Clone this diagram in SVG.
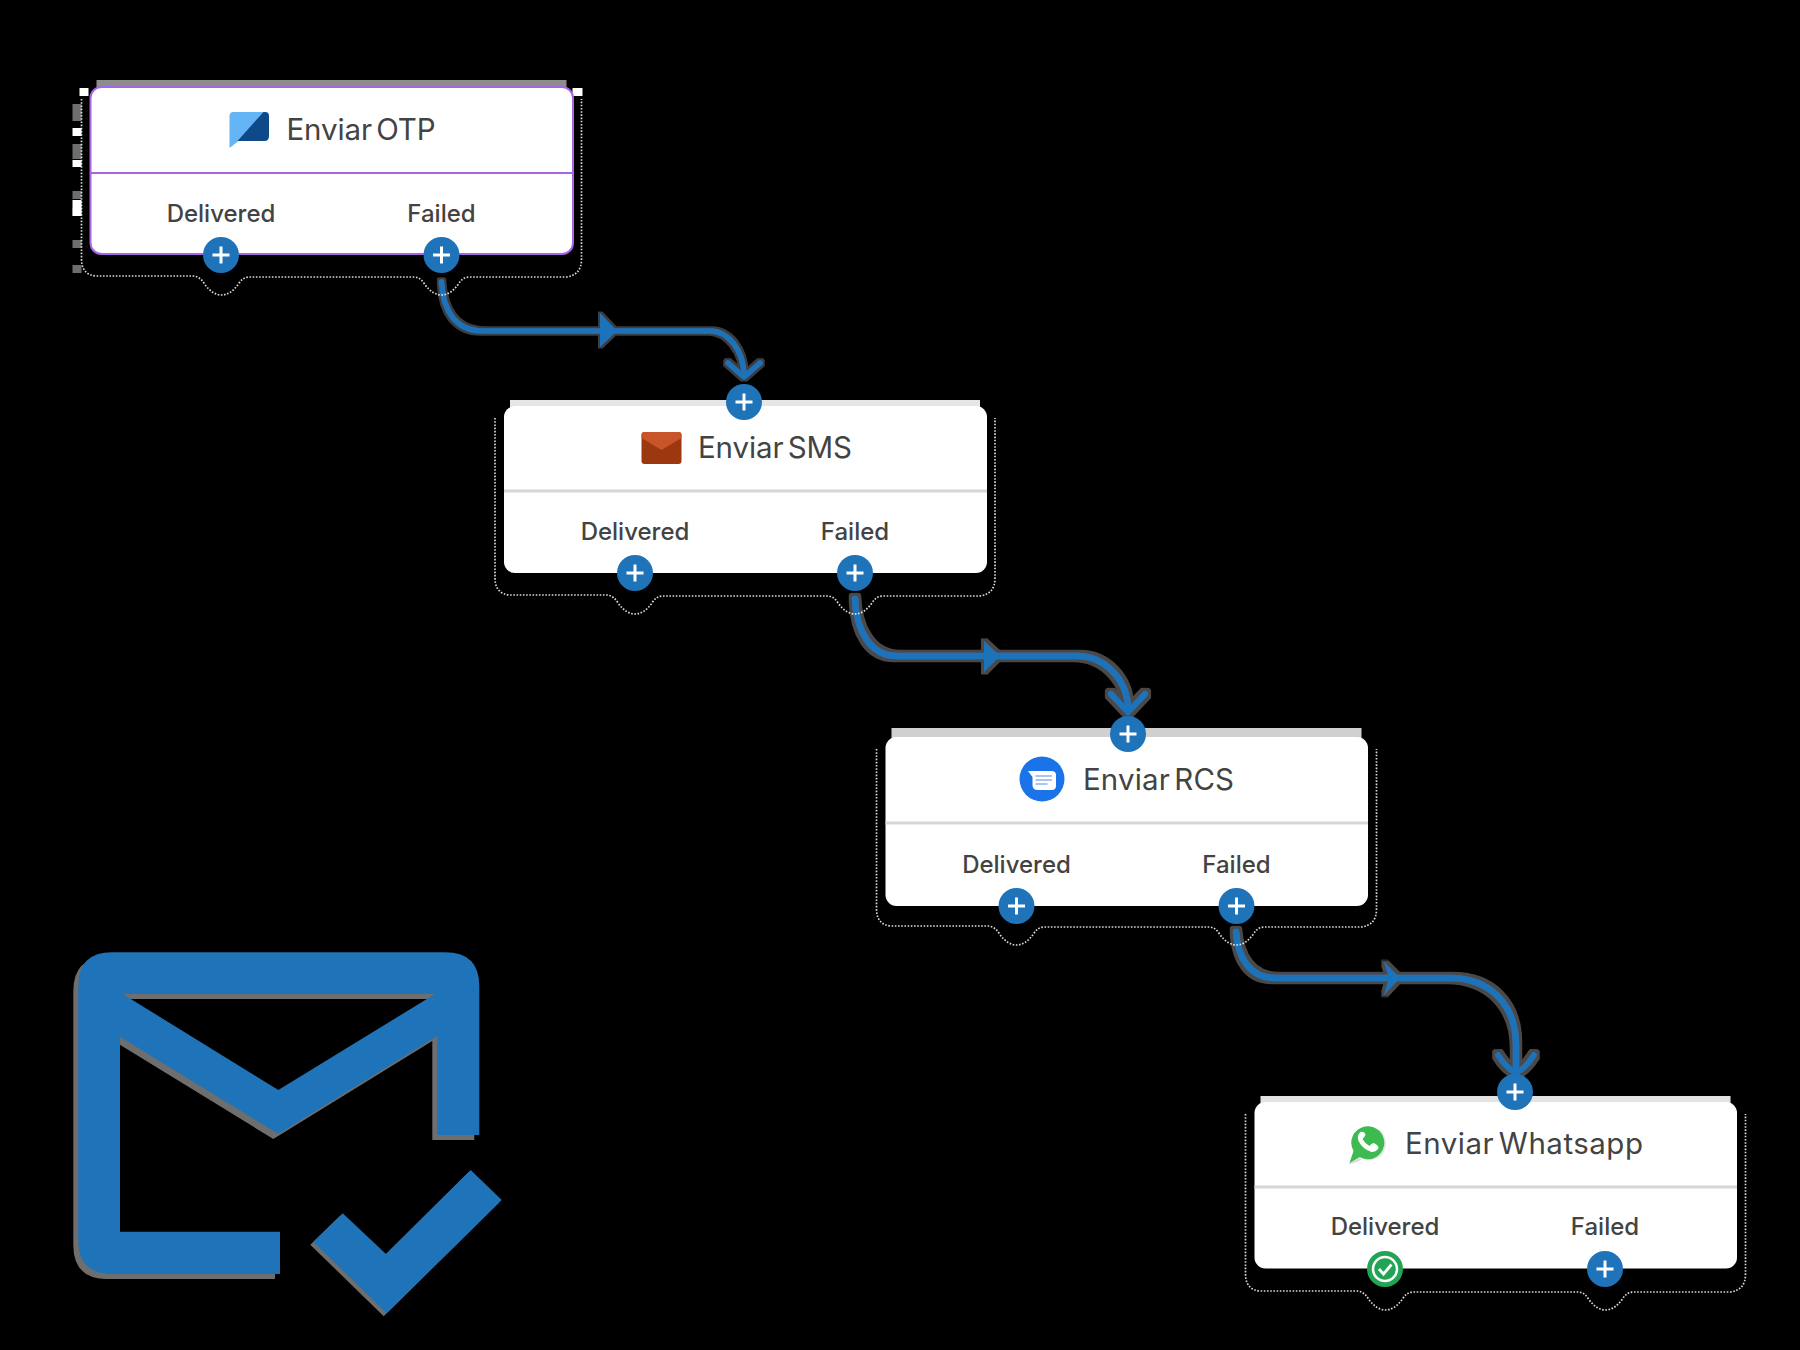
<svg xmlns="http://www.w3.org/2000/svg" width="1800" height="1350" viewBox="0 0 1800 1350">
<style>
text{font-family:"Inter","Noto Sans","Liberation Sans",sans-serif;fill:#434343}
.title{font-size:29.500px;word-spacing:-4px}
.lab{font-size:24px;text-anchor:middle;font-weight:500}
.halo{fill:none;stroke:#fff;stroke-width:1.7;stroke-dasharray:1.6 1.6;opacity:.85}
.card{fill:#fff}
.div{stroke:#d6d6d6;stroke-width:3}
.conn{fill:none;stroke:#1e73b9;stroke-linecap:round;stroke-linejoin:round}
.tri{fill:#1e73b9}
.btn{fill:#1e73b9}
.pl{stroke:#fff;stroke-width:3;fill:none}
.big{fill:#1e73b9;fill-rule:evenodd}
.bigs{fill:#6e6e6e;fill-rule:evenodd}
</style>
<defs>
<filter id="g2" x="-10%" y="-10%" width="120%" height="120%"><feMorphology in="SourceAlpha" operator="dilate" radius="2" result="m"/><feFlood flood-color="#3c3c3c"/><feComposite in2="m" operator="in" result="b"/><feMerge><feMergeNode in="b"/><feMergeNode in="SourceGraphic"/></feMerge></filter>
<filter id="g4" x="-10%" y="-10%" width="120%" height="120%"><feMorphology in="SourceAlpha" operator="dilate" radius="3" result="m"/><feFlood flood-color="#4a4a4a"/><feComposite in2="m" operator="in" result="b"/><feMerge><feMergeNode in="b"/><feMergeNode in="SourceGraphic"/></feMerge></filter>
<path id="halo" class="halo" d="M-9,12V172Q-9,188 6,189H103Q110,190 114,197Q122,208 131,208Q140,208 148,197Q152,190 159,190H323Q330,190 334,197Q342,208 351,208Q360,208 368,197Q372,190 379,190H476Q491,188 491,172V12"/>
<g id="plus"><circle class="btn" r="18"/><path class="pl" d="M-8.500,0H8.500M0,-8.500V8.500"/></g>
</defs>
<rect id="background" width="1800" height="1350" fill="#000"/>
<g id="connectors">
<g filter="url(#g2)">
<path class="conn" stroke-width="5.500" d="M441.500,282C443,310 455,331 483,331H710C728,331 744,350 744,376"/>
<polygon class="tri" points="600,313 617,331 600,347"/>
<path class="conn" stroke-width="5.500" d="M728,363L744,377L760,363"/>
</g>
<g filter="url(#g4)">
<path class="conn" stroke-width="6.500" d="M855,599C856,630 870,656 897,656H1077C1105,656 1128,680 1128,710"/>
<polygon class="tri" points="984,641 1000,656 984,672"/>
<path class="conn" stroke-width="6" d="M1111,694L1128,712L1145,694"/>
</g>
<g filter="url(#g4)">
<path class="conn" stroke-width="6.500" d="M1236,932C1238,958 1250,978 1275,978H1450C1490,978 1516,1005 1516,1045V1070"/>
<polygon class="tri" points="1384,962 1400,978 1384,995 1389,978"/>
<path class="conn" stroke-width="5.500" d="M1498,1055C1503,1063 1510,1070 1516,1073C1522,1070 1529,1063 1534,1055"/>
</g>
</g>
<g id="node-otp" transform="translate(90.500,87)">
<rect x="6" y="-7" width="470" height="12" fill="#8c8c8c"/>
<path fill="#6e6e6e" d="M-18,17h9v17h-9zM-18,57h9v15h-9zM-18,104h9v8h-9zM-18,121h9v8h-9zM-18,153h9v8h-9zM-18,178h9v8h-9z"/>
<path fill="#fff" d="M-18,41h9v8h-9zM-18,73h9v7h-9zM-18,113h9v16h-9zM-11,1h9v8h-9zM482,1h10v8h-10z"/>
<use href="#halo"/>
<rect class="card" width="482.500" height="167" rx="11" stroke="#a864e6" stroke-width="2"/>
<line x1="0" y1="86" x2="482.500" y2="86" stroke="#a864e6" stroke-width="2"/>
<g id="icon-otp">
<path fill="#64b5f6" d="M143,25H175Q178,25 178,28L148,54L139,61V29Q139,25 143,25Z"/>
<path fill="#0e4a8a" d="M173,25H174Q178.500,25 178.500,29V49Q178.500,54 174,54H147Z"/>
</g>
<text class="title" x="196" y="53" textLength="149">Enviar OTP</text>
<text class="lab" x="130.500" y="135">Delivered</text>
<text class="lab" x="351" y="135">Failed</text>
<use href="#plus" x="130.500" y="168"/>
<use href="#plus" x="351" y="168"/>
</g>
<g id="node-sms" transform="translate(504,406)">
<rect x="6" y="-6" width="470" height="12" fill="#e6e6e6"/>
<use href="#halo"/>
<rect class="card" width="483" height="167" rx="11"/>
<line class="div" x1="0" y1="85" x2="483" y2="85"/>
<g id="icon-sms">
<rect x="137.500" y="26" width="40" height="32" rx="3" fill="#9b380f"/>
<path fill="#c9542a" d="M137.500,29Q137.500,26 140.500,26H174.500Q177.500,26 177.500,29V32L157.500,44L137.500,32Z"/>
</g>
<text class="title" x="194" y="52" textLength="154">Enviar SMS</text>
<text class="lab" x="131" y="134">Delivered</text>
<text class="lab" x="351" y="134">Failed</text>
<use href="#plus" x="131" y="167"/>
<use href="#plus" x="351" y="167"/>
<use href="#plus" x="240" y="-4"/>
</g>
<g id="node-rcs" transform="translate(885.500,737)">
<rect x="6" y="-9" width="470" height="15" fill="#d0d0d0"/>
<use href="#halo"/>
<rect class="card" width="482.500" height="169" rx="11"/>
<line class="div" x1="0" y1="86" x2="482.500" y2="86"/>
<g id="icon-rcs">
<circle cx="156.500" cy="42" r="22.500" fill="#1a73e8"/>
<path fill="#fff" d="M142.500,34H166Q170.500,34 170.500,38V49Q170.500,53 166,53H152Q147,53 147,48V40Z"/>
<path stroke="#a9c4f5" stroke-width="2" fill="none" d="M150,39H166.500M150,43H166.500M150,47H162"/>
</g>
<text class="title" x="197.500" y="53" textLength="151">Enviar RCS</text>
<text class="lab" x="131" y="136">Delivered</text>
<text class="lab" x="351" y="136">Failed</text>
<use href="#plus" x="131" y="169"/>
<use href="#plus" x="351" y="169"/>
<use href="#plus" x="242.500" y="-3"/>
</g>
<g id="node-whatsapp" transform="translate(1254.500,1102)">
<rect x="6" y="-6" width="470" height="12" fill="#e3e3e3"/>
<use href="#halo"/>
<rect class="card" width="482.500" height="166.500" rx="11"/>
<line class="div" x1="0" y1="85" x2="482.500" y2="85"/>
<g id="icon-whatsapp">
<path fill="#dcdcdc" d="M94,62.500L101,49L107,58Q101,61 94,62.500Z"/>
<circle cx="115" cy="41.500" r="16.500" fill="#e3e3e3"/>
<path fill="#3dbb50" d="M95,61L99,49A16.500,16.500 0 1 1 105,55Z"/>
<path fill="#fff" d="M106,30Q102,33 104,39Q108,47 117,50Q122,50 124,46Q124,43 119,41Q116,42 115,44Q110,41 108,37Q110,35 111,33Q110,29 106,30Z"/>
</g>
<text class="title" x="150.500" y="52" textLength="238">Enviar Whatsapp</text>
<text class="lab" x="130.500" y="133">Delivered</text>
<text class="lab" x="350.500" y="133">Failed</text>
<g id="done" transform="translate(130.500,167)">
<circle r="18" fill="#22a455"/>
<circle r="12" fill="none" stroke="#fff" stroke-width="2.500"/>
<path d="M-6,0L-1.500,5L6.500,-4.500" fill="none" stroke="#fff" stroke-width="2.800"/>
</g>
<use href="#plus" x="350.500" y="167"/>
<use href="#plus" x="260.500" y="-10"/>
</g>
<g id="mail-check">
<g class="bigs" transform="translate(-5,5)"><path d="M479.300,1135V986Q479.300,952.300 445,952.300H112Q78.300,952.300 78.300,986V1240Q78.300,1274 112,1274H280V1231.700H120V1036.700L278.300,1134L437.300,1036V1135ZM122.700,994H435L278.300,1090Z"/></g>
<polygon class="bigs" points="470.700,1170 501.700,1200 386.700,1313.300 313.300,1241.700 342.700,1213.300 386,1254" transform="translate(-3,3)"/>
<path class="big" d="M479.300,1135V986Q479.300,952.300 445,952.300H112Q78.300,952.300 78.300,986V1240Q78.300,1274 112,1274H280V1231.700H120V1036.700L278.300,1134L437.300,1036V1135ZM122.700,994H435L278.300,1090Z"/>
<polygon class="big" points="470.700,1170 501.700,1200 386.700,1313.300 313.300,1241.700 342.700,1213.300 386,1254"/>
</g>
</svg>
